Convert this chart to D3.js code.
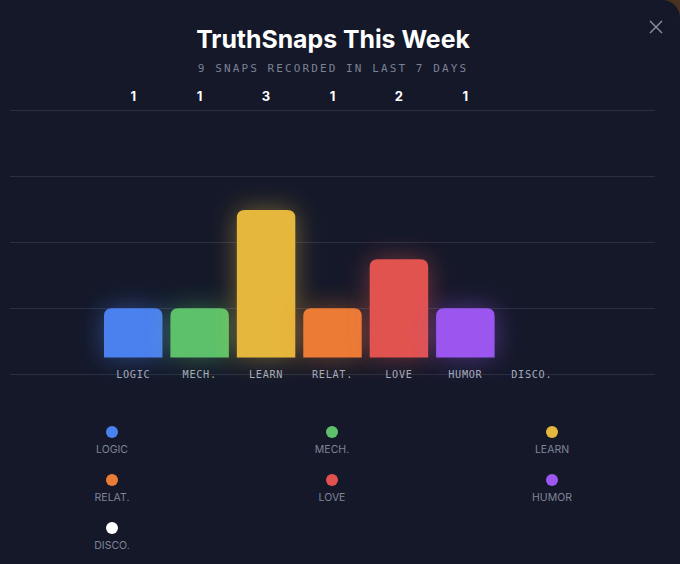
<!DOCTYPE html>
<html>
<head>
<meta charset="utf-8">
<script src="https://cdn.jsdelivr.net/npm/d3@7"></script>
<style>
  html, body { margin: 0; padding: 0; background: #4a3220; }
  #panel { width: 680px; height: 564px; background: #141829; border-top-right-radius: 18px; overflow: hidden; }
  svg { display: block; }
</style>
</head>
<body>
<div id="panel"></div>
<script>
const categories = ["LOGIC", "MECH.", "LEARN", "RELAT.", "LOVE", "HUMOR", "DISCO."];
const counts = [1, 1, 3, 1, 2, 1, 0];
const colors = ["#4b80ef", "#5cc16a", "#e6b73e", "#ec7b35", "#e1524f", "#9c57f0", "#ffffff"];
const gridLevels = [0, 1, 2, 3, 4];
const title = "TruthSnaps This Week";
const subtitle = "9 SNAPS RECORDED IN LAST 7 DAYS";

const W = 680, H = 564;
const svg = d3.select("#panel").append("svg").attr("width", W).attr("height", H);

const defs = svg.append("defs");
const f = defs.append("filter").attr("id", "glow").attr("x", "-60%").attr("y", "-60%").attr("width", "220%").attr("height", "220%");
f.append("feGaussianBlur").attr("in", "SourceGraphic").attr("stdDeviation", 13).attr("result", "b");
f.append("feColorMatrix").attr("in", "b").attr("type", "matrix")
  .attr("values", "1 0 0 0 0  0 1 0 0 0  0 0 1 0 0  0 0 0 0.45 0").attr("result", "bb");
const m = f.append("feMerge");
m.append("feMergeNode").attr("in", "bb");
m.append("feMergeNode").attr("in", "SourceGraphic");

// Title
svg.append("text").attr("x", 333).attr("y", 48).attr("text-anchor", "middle")
  .attr("font-family", "Inter, 'Open Sans', sans-serif").attr("font-weight", 700).attr("font-size", 24.8)
  .attr("fill", "#ffffff").text(title);
svg.append("text").attr("x", 333).attr("y", 72).attr("text-anchor", "middle")
  .attr("font-family", "'DejaVu Sans Mono', monospace").attr("font-size", 11).attr("letter-spacing", 2.1)
  .attr("fill", "#7c8194").text(subtitle);

// Close icon
const cx = 656, cy = 27, cs = 6;
svg.append("path").attr("d", `M${cx-cs},${cy-cs}L${cx+cs},${cy+cs}M${cx+cs},${cy-cs}L${cx-cs},${cy+cs}`)
  .attr("stroke", "#8d92a4").attr("stroke-width", 1.4).attr("fill", "none");

// Grid
const gy = d3.scaleLinear().domain([0, 4]).range([110, 374]);
svg.append("g").selectAll("line").data(gridLevels).join("line")
  .attr("x1", 10).attr("x2", 655)
  .attr("y1", d => gy(d) + 0.5).attr("y2", d => gy(d) + 0.5)
  .attr("stroke", "#2a2f42").attr("stroke-width", 1);

// Bars
const x = d3.scaleBand().domain(categories).range([100, 565]).paddingInner(0.12).paddingOuter(0.06);
const y = d3.scaleLinear().domain([0, 3]).range([357.5, 210]);
const r = 8;
function topRounded(x0, y0, w, h) {
  if (h <= 0) return "";
  const rr = Math.min(r, w / 2, h);
  return `M${x0},${y0 + h}V${y0 + rr}Q${x0},${y0} ${x0 + rr},${y0}H${x0 + w - rr}Q${x0 + w},${y0} ${x0 + w},${y0 + rr}V${y0 + h}Z`;
}
const data = categories.map((c, i) => ({ c, v: counts[i], col: colors[i] }));
svg.append("g").selectAll("path").data(data.filter(d => d.v > 0)).join("path")
  .attr("d", d => topRounded(x(d.c), y(d.v), x.bandwidth(), y(0) - y(d.v)))
  .attr("fill", d => d.col).attr("filter", "url(#glow)");

// Value labels on top row
svg.append("g").selectAll("text").data(data.filter(d => d.v > 0)).join("text")
  .attr("x", d => x(d.c) + x.bandwidth() / 2).attr("y", 101).attr("text-anchor", "middle")
  .attr("font-family", "Inter, 'Open Sans', sans-serif").attr("font-weight", 700).attr("font-size", 13)
  .attr("fill", "#ffffff").text(d => d.v);

// Category axis labels
svg.append("g").selectAll("text").data(categories).join("text")
  .attr("x", d => x(d) + x.bandwidth() / 2).attr("y", 378).attr("text-anchor", "middle")
  .attr("font-family", "'DejaVu Sans Mono', monospace").attr("font-size", 10.2).attr("letter-spacing", 0.7)
  .attr("fill", "#a6abbb").text(d => d);

// Legend
const lx = d3.scalePoint().domain([0, 1, 2]).range([112, 552]);
const ly = d3.scalePoint().domain([0, 1, 2]).range([432, 528]);
const lg = svg.append("g").selectAll("g").data(data).join("g")
  .attr("transform", (d, i) => `translate(${lx(i % 3)},${ly(Math.floor(i / 3))})`);
lg.append("circle").attr("r", 6).attr("fill", d => d.col);
lg.append("text").attr("y", 21).attr("text-anchor", "middle")
  .attr("font-family", "Inter, 'Open Sans', sans-serif").attr("font-size", 10.5)
  .attr("fill", "#7f8598").text(d => d.c);
</script>
</body>
</html>
